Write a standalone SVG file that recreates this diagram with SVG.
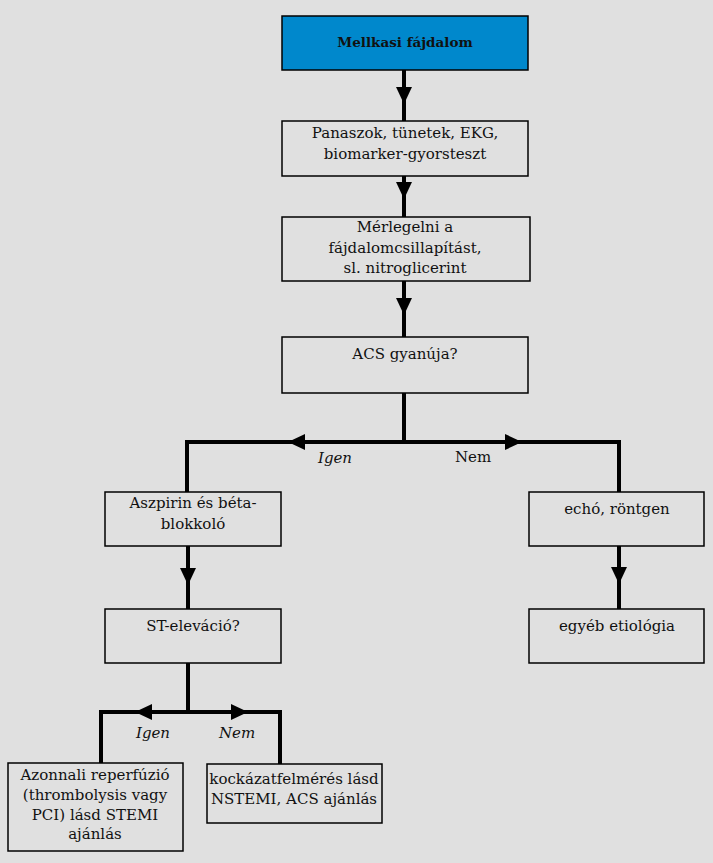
<svg xmlns="http://www.w3.org/2000/svg" width="713" height="863" viewBox="0 0 713 863">
<style>
.box{fill:#e0e0e0;stroke:#000;stroke-width:1.5}
.top{fill:#0088cc;stroke:#000;stroke-width:1.5}
.t{font-family:"DejaVu Serif","Liberation Serif",serif;font-size:15px;fill:#111;text-anchor:middle}
.b{font-weight:bold;font-size:13.5px}
.i{font-style:italic}
.ln{fill:none;stroke:#000;stroke-width:4}
.ah{fill:#000}
</style>
<rect width="713" height="863" fill="#e0e0e0"/>
<g id="connectors">
<path class="ln" d="M404 70V121M404 176V217M404 281V337M404 393V442M187 442H619M187 440V492M619 440V492M188 546V609M619 546V609M188 663V712M101 712H280M101 710V763M280 710V764"/>
<polygon class="ah" points="396,87 412,87 404,104"/>
<polygon class="ah" points="396,182 412,182 404,199"/>
<polygon class="ah" points="396,298 412,298 404,315"/>
<polygon class="ah" points="305,434 305,450 288,442"/>
<polygon class="ah" points="505,434 505,450 522,442"/>
<polygon class="ah" points="180,568 196,568 188,585"/>
<polygon class="ah" points="611,567 627,567 619,584"/>
<polygon class="ah" points="152,704 152,720 135,712"/>
<polygon class="ah" points="231,704 231,720 248,712"/>
<text class="t i" x="335" y="463">Igen</text>
<text class="t" x="473" y="462">Nem</text>
<text class="t i" x="153" y="738">Igen</text>
<text class="t i" x="237" y="738">Nem</text>
</g>
<g id="n1"><rect class="top" x="282" y="16" width="246" height="54"/><text class="t b" x="405" y="47">Mellkasi fájdalom</text></g>
<g id="n2"><rect class="box" x="282" y="121" width="246" height="55"/><text class="t" x="405" y="138">Panaszok, tünetek, EKG,</text><text class="t" x="405" y="159">biomarker-gyorsteszt</text></g>
<g id="n3"><rect class="box" x="282" y="217" width="248" height="64"/><text class="t" x="405" y="232">Mérlegelni a</text><text class="t" x="405" y="253">fájdalomcsillapítást,</text><text class="t" x="405" y="273">sl. nitroglicerint</text></g>
<g id="n4"><rect class="box" x="282" y="337" width="246" height="56"/><text class="t" x="405" y="359">ACS gyanúja?</text></g>
<g id="n5"><rect class="box" x="105" y="492" width="176" height="54"/><text class="t" x="193" y="508">Aszpirin és béta-</text><text class="t" x="193" y="529">blokkoló</text></g>
<g id="n6"><rect class="box" x="529" y="492" width="175" height="54"/><text class="t" x="617" y="514">echó, röntgen</text></g>
<g id="n7"><rect class="box" x="105" y="609" width="176" height="54"/><text class="t" x="193" y="631">ST-eleváció?</text></g>
<g id="n8"><rect class="box" x="529" y="609" width="175" height="54"/><text class="t" x="617" y="631">egyéb etiológia</text></g>
<g id="n9"><rect class="box" x="8" y="763" width="175" height="88"/><text class="t" x="95" y="780">Azonnali reperfúzió</text><text class="t" x="95" y="800">(thrombolysis vagy</text><text class="t" x="95" y="820">PCI) lásd STEMI</text><text class="t" x="95" y="839">ajánlás</text></g>
<g id="n10"><rect class="box" x="207" y="764" width="175" height="59"/><text class="t" x="294" y="784">kockázatfelmérés lásd</text><text class="t" x="294" y="804">NSTEMI, ACS ajánlás</text></g>
</svg>
